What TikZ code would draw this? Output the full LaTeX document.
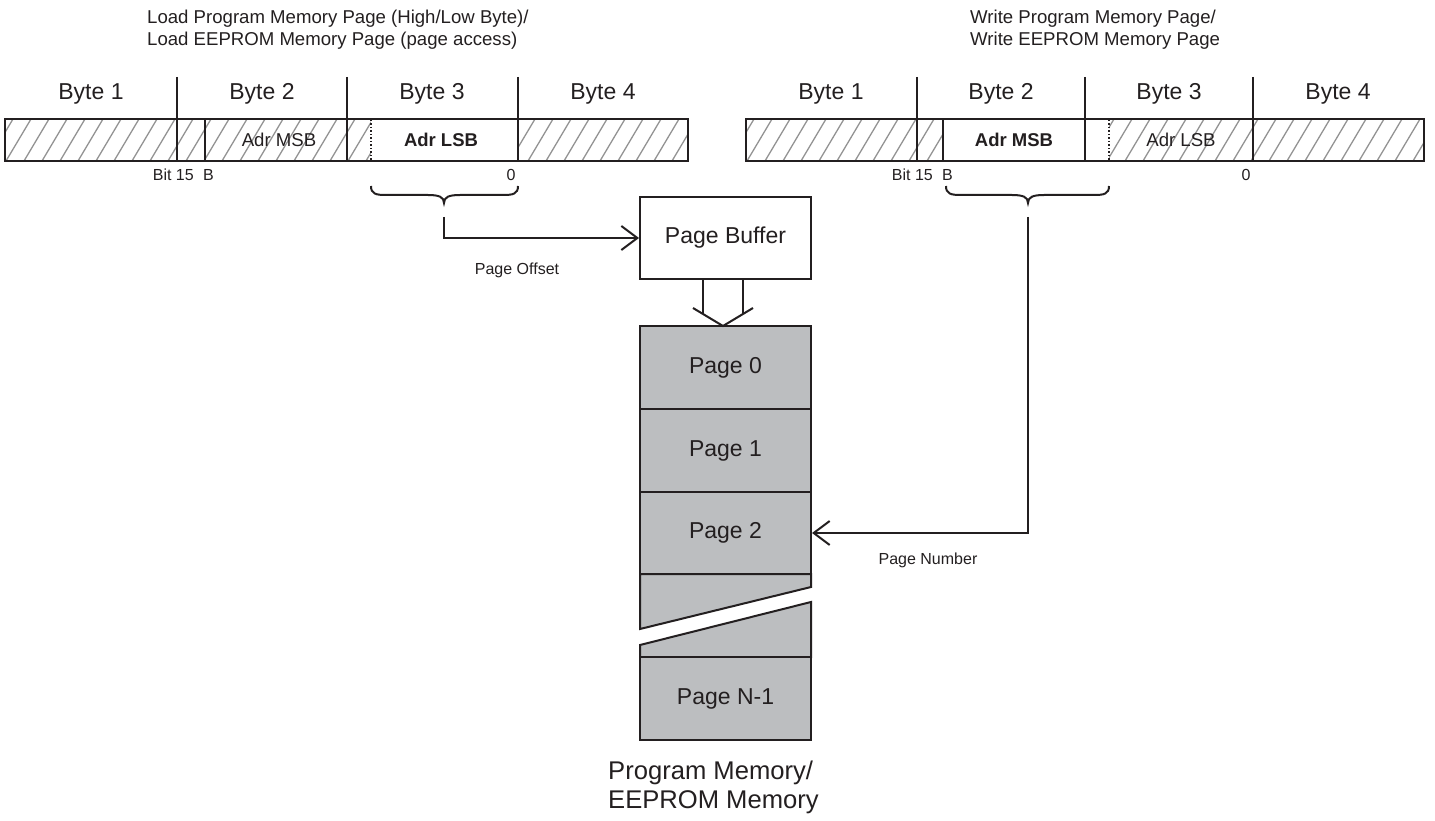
\documentclass[tikz,border=0pt]{standalone}
\usepackage{fontspec}
\setmainfont{Liberation Sans}
\usetikzlibrary{arrows.meta}
\definecolor{ink}{HTML}{231F20}
\definecolor{pagegray}{HTML}{BCBEC0}
\definecolor{hatchgray}{HTML}{939393}
\tikzset{
 box/.style={draw=ink, line width=2pt},
 hatchline/.style={draw=hatchgray, line width=1.3pt},
 dotdiv/.style={draw=ink, line width=1.3pt, dash pattern=on 1.5pt off 2pt},
 small/.style={font=\fontsize{16}{19}\selectfont, text=ink, inner sep=0pt},
 toplab/.style={font=\fontsize{18.6}{22}\selectfont, text=ink, inner sep=0pt, align=left, anchor=north west},
 bytelab/.style={font=\fontsize{23}{27}\selectfont, text=ink, inner sep=0pt},
 adr/.style={font=\fontsize{18.6}{21}\selectfont, text=ink, inner sep=0pt},
 adrb/.style={font=\bfseries\fontsize{18.5}{21}\selectfont, text=ink, inner sep=0pt},
 pagebox/.style={draw=ink, line width=2pt, fill=pagegray, minimum width=171pt, inner sep=0pt, font=\fontsize{23}{27}\selectfont, text=ink},
 conn/.style={draw=ink, line width=2pt, -{Straight Barb[length=16pt, width=24pt]}},
 bracepath/.style={draw=ink, line width=2pt},
}
\begin{document}
\begin{tikzpicture}[x=1pt, y=-1pt]
\useasboundingbox (0,0) rectangle (1435,821);

% ---------- top labels ----------
\node[toplab] (ltop) at (147,10) {Load Program Memory Page (High/Low Byte)/\\Load EEPROM Memory Page (page access)};
\node[toplab] (rtop) at (970,10) {Write Program Memory Page/\\Write EEPROM Memory Page};

% ---------- left register ----------
\begin{scope}
\clip (5,119) rectangle (688,161);
\foreach \k in {0,...,42} \draw[hatchline] ({\k*18-30},161) -- ++(25,-42);
\end{scope}
\fill[white] (371,119) rectangle (518,161);
\draw[box] (5,119) rectangle (688,161);
\draw[box] (177,77) -- (177,161);
\draw[box] (347,77) -- (347,161);
\draw[box] (518,77) -- (518,161);
\draw[box] (205,119) -- (205,161);
\draw[dotdiv] (371,120) -- (371,160);
\node[bytelab] (lb1) at (91,94) {Byte 1};
\node[bytelab] (lb2) at (262,94) {Byte 2};
\node[bytelab] (lb3) at (432,94) {Byte 3};
\node[bytelab] (lb4) at (603,94) {Byte 4};
\node[adr] (lmsb) at (279,140) {Adr MSB};
\node[adrb] (llsb) at (441,140) {Adr LSB};
\node[small, anchor=base east] (lbit) at (194,181) {Bit 15};
\node[small, anchor=base west] (lB) at (203,181) {B};
\node[small, anchor=base] (l0) at (511,181) {0};

% ---------- right register ----------
\begin{scope}
\clip (746,119) rectangle (1424,161);
\foreach \k in {0,...,42} \draw[hatchline] ({\k*18+711},161) -- ++(25,-42);
\end{scope}
\fill[white] (943,119) rectangle (1109,161);
\draw[box] (746,119) rectangle (1424,161);
\draw[box] (917,77) -- (917,161);
\draw[box] (1085,77) -- (1085,161);
\draw[box] (1253,77) -- (1253,161);
\draw[box] (943,119) -- (943,161);
\draw[dotdiv] (1109,120) -- (1109,160);
\node[bytelab] (rb1) at (831,94) {Byte 1};
\node[bytelab] (rb2) at (1001,94) {Byte 2};
\node[bytelab] (rb3) at (1169,94) {Byte 3};
\node[bytelab] (rb4) at (1338,94) {Byte 4};
\node[adrb] (rmsb) at (1014,140) {Adr MSB};
\node[adr] (rlsb) at (1181,140) {Adr LSB};
\node[small, anchor=base east] (rbit) at (933,181) {Bit 15};
\node[small, anchor=base west] (rB) at (942,181) {B};
\node[small, anchor=base] (r0) at (1246,181) {0};

% ---------- braces ----------
\draw[bracepath] (371,186) .. controls (371,194) and (376,195) .. (386,195) -- (428,195)
  .. controls (439,195) and (444,197) .. (444,203)
  .. controls (444,197) and (449,195) .. (460,195) -- (503,195)
  .. controls (513,195) and (518,194) .. (518,186);
\draw[bracepath] (946,186) .. controls (946,194) and (951,195) .. (961,195) -- (1012,195)
  .. controls (1023,195) and (1028,197) .. (1028,203)
  .. controls (1028,197) and (1033,195) .. (1044,195) -- (1094,195)
  .. controls (1104,195) and (1109,194) .. (1109,186);
\coordinate (c1) at (444,217);
\coordinate (c2) at (1028,217);

% ---------- page buffer and pages ----------
\node[pagebox, fill=white, minimum height=82pt] (pb) at (725.5,238) {Page Buffer};
\node[pagebox, minimum height=83pt] (p0) at (725.5,367.5) {Page 0};
\node[pagebox, minimum height=83pt] (p1) at (725.5,450.5) {Page 1};
\node[pagebox, minimum height=82pt] (p2) at (725.5,533) {Page 2};
\filldraw[box, fill=pagegray, line join=miter] (640,574) -- (811,574) -- (811,587) -- (640,629) -- cycle;
\filldraw[box, fill=pagegray, line join=miter] (640,657) -- (640,645) -- (811,602) -- (811,657) -- cycle;
\node[pagebox, minimum height=83pt] (pN) at (725.5,698.5) {Page N-1};

% hollow arrow from buffer to memory
\draw[box] (703,279) -- (703,314);
\draw[box] (743,279) -- (743,314);
\draw[box, line join=miter] (693,308) -- (723,326) -- (753,308);

% ---------- connectors ----------
\draw[conn] (c1) |- (pb.west);
\node[small] (poff) at (517,270) {Page Offset};
\draw[conn] (c2) |- (p2.east);
\node[small] (pnum) at (928,560) {Page Number};

% ---------- caption ----------
\node[font=\fontsize{25.6}{28.5}\selectfont, text=ink, inner sep=0pt, align=left, anchor=north west] (mem) at (608,761) {Program Memory/\\EEPROM Memory};
\end{tikzpicture}
\end{document}
